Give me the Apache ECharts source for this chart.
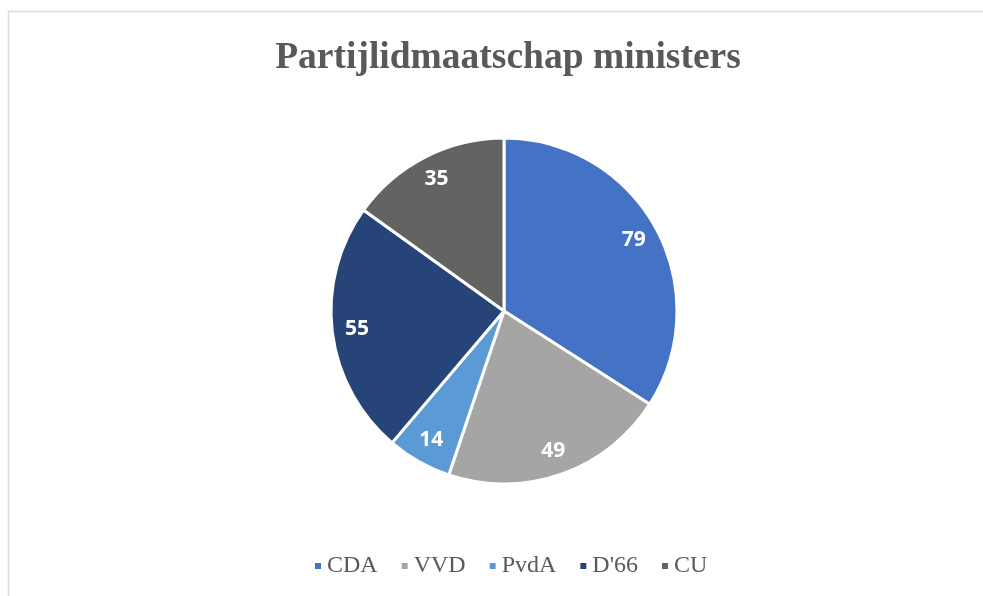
<!DOCTYPE html>
<html>
<head>
<meta charset="utf-8">
<script src="https://cdn.jsdelivr.net/npm/echarts@6/dist/echarts.min.js"></script>
<style>
html,body{margin:0;padding:0;background:#fff;}
#main{width:983px;height:596px;}
</style>
</head>
<body>
<div id="main"></div>
<script>
var parties = ['CDA', 'VVD', 'PvdA', "D'66", 'CU'];
var members = [79, 49, 14, 55, 35];
var colors = ['#4472C4', '#A5A5A5', '#5B9BD5', '#264478', '#636363'];

var data = [];
for (var i = 0; i < parties.length; i++) {
	data.push({ name: parties[i], value: members[i] });
}

var myChart = echarts.init(document.getElementById('main'));
var option = {
	color: colors,
	animation: false,
	title: {
		text: 'Partijlidmaatschap ministers',
		left: 503,
		textAlign: 'center',
		top: 34,
		textStyle: {
			fontFamily: 'Liberation Serif',
			fontWeight: 'bold',
			fontSize: 37.5,
			color: '#595959'
		}
	},
	legend: {
		data: parties,
		bottom: 13,
		left: 308,
		icon: 'rect',
		itemWidth: 8,
		itemHeight: 8,
		itemGap: 22,
		textStyle: {
			fontFamily: 'Liberation Serif',
			fontSize: 24,
			color: '#595959'
		}
	},
	graphic: [{
		type: 'rect',
		shape: { x: 8.5, y: 11.5, width: 1200, height: 800 },
		style: { fill: 'none', stroke: '#d9d9d9', lineWidth: 1.5 },
		silent: true
	}],
	series: [
		{
			type: 'pie',
			center: [504, 311],
			radius: [0, 173],
			startAngle: 90,
			clockwise: true,
			data: data,
			label: { show: false },
			labelLine: { show: false },
			itemStyle: { borderColor: '#fff', borderWidth: 3 },
			emphasis: { disabled: true }
		},
		{
			// alleen voor de labels
			type: 'pie',
			center: [504, 311],
			radius: [117, 173],
			startAngle: 90,
			clockwise: true,
			data: data,
			silent: true,
			itemStyle: { color: 'transparent', borderWidth: 0 },
			label: {
				show: true,
				position: 'inside',
				formatter: '{c}',
				fontFamily: 'Open Sans',
				fontWeight: 'bold',
				fontSize: 21,
				color: '#fff'
			},
			labelLine: { show: false },
			emphasis: { disabled: true }
		}
	]
};
myChart.setOption(option);
</script>
</body>
</html>
